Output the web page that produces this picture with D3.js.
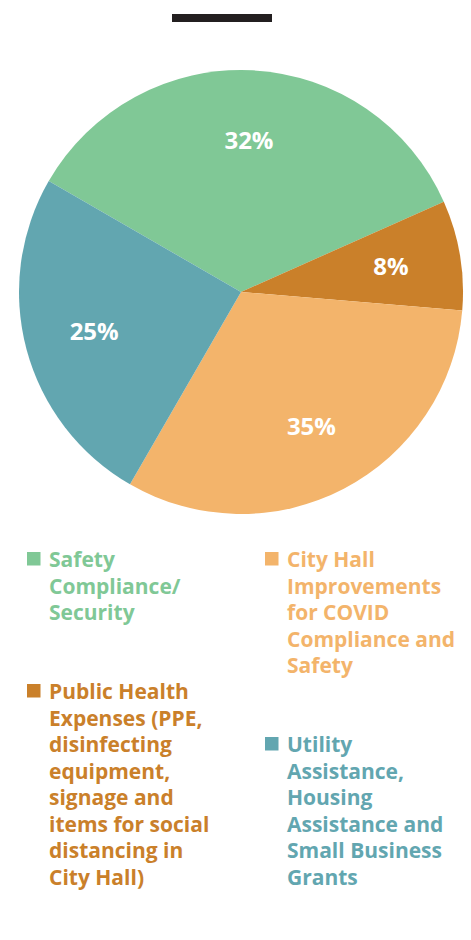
<!DOCTYPE html>
<html>
<head>
<meta charset="utf-8">
<script src="https://cdn.jsdelivr.net/npm/d3@7"></script>
<style>
  body { margin: 0; background: #fff; }
  text { font-family: "Open Sans", sans-serif; font-weight: 700; }
</style>
</head>
<body>
<div id="container"></div>
<script>
// slice order clockwise, starting at the teal/green boundary
let categories = ["Safety Compliance/Security",
                  "Public Health Expenses",
                  "City Hall Improvements",
                  "Utility Assistance"];
// slice sizes as drawn in the picture (percent of the circle)
let shares = [35, 8, 32, 25];
// printed labels on the slices
let pctLabels = ["32%", "8%", "35%", "25%"];
let colors = ["#80c896", "#ca802a", "#f3b46b", "#62a6b0"];
// legend texts, one entry per line
let legendLines = [
  ["Safety", "Compliance/", "Security"],
  ["Public Health", "Expenses (PPE,", "disinfecting", "equipment,", "signage and", "items for social", "distancing in", "City Hall)"],
  ["City Hall", "Improvements", "for COVID", "Compliance and", "Safety"],
  ["Utility", "Assistance,", "Housing", "Assistance and", "Small Business", "Grants"]
];

let width = 471, height = 940;
let cx = 241, cy = 292, radius = 222;

let svg = d3.select("#container")
            .append("svg")
              .attr("width", width)
              .attr("height", height);

// little black bar at the top
svg.append("rect")
    .attr("x", 172).attr("y", 14)
    .attr("width", 100).attr("height", 8)
    .attr("fill", "#231f20");

let pie = d3.pie()
            .sort(null)
            .value(d => d)
            .startAngle(-Math.PI / 3)
            .endAngle(-Math.PI / 3 + 2 * Math.PI);

let arc = d3.arc().innerRadius(0).outerRadius(radius);
let labelArc = d3.arc().innerRadius(152).outerRadius(152);

let chart = svg.append("g")
               .attr("transform", "translate(" + cx + "," + cy + ")");

let slices = pie(shares);

chart.selectAll("path")
     .data(slices)
     .enter().append("path")
       .attr("d", arc)
       .attr("fill", (d, i) => colors[i]);

chart.selectAll("text.pct")
     .data(slices)
     .enter().append("text")
       .attr("class", "pct")
       .attr("transform", d => "translate(" + labelArc.centroid(d) + ")")
       .attr("dy", "0.36em")
       .attr("text-anchor", "middle")
       .attr("fill", "#fff")
       .attr("font-size", 24)
       .text((d, i) => pctLabels[i]);

// legend: two columns
let lineH = 26.5;
let legendPos = [
  {x: 27, y: 567},   // Safety
  {x: 27, y: 699},   // Public Health
  {x: 265, y: 567},  // City Hall
  {x: 265, y: 752}   // Utility
];

let legend = svg.selectAll("g.legend")
                .data(categories)
                .enter().append("g")
                  .attr("class", "legend")
                  .attr("transform", (d, i) => "translate(" + legendPos[i].x + "," + legendPos[i].y + ")");

legend.append("rect")
      .attr("x", 0).attr("y", -15)
      .attr("width", 13.5).attr("height", 13.5)
      .attr("fill", (d, i) => colors[i]);

legend.append("text")
      .attr("font-size", 21)
      .attr("fill", (d, i) => colors[i])
      .each(function(d, i) {
        let t = d3.select(this);
        legendLines[i].forEach(function(line, j) {
          t.append("tspan")
           .attr("x", 22)
           .attr("y", j * lineH)
           .text(line);
        });
      });
</script>
</body>
</html>
